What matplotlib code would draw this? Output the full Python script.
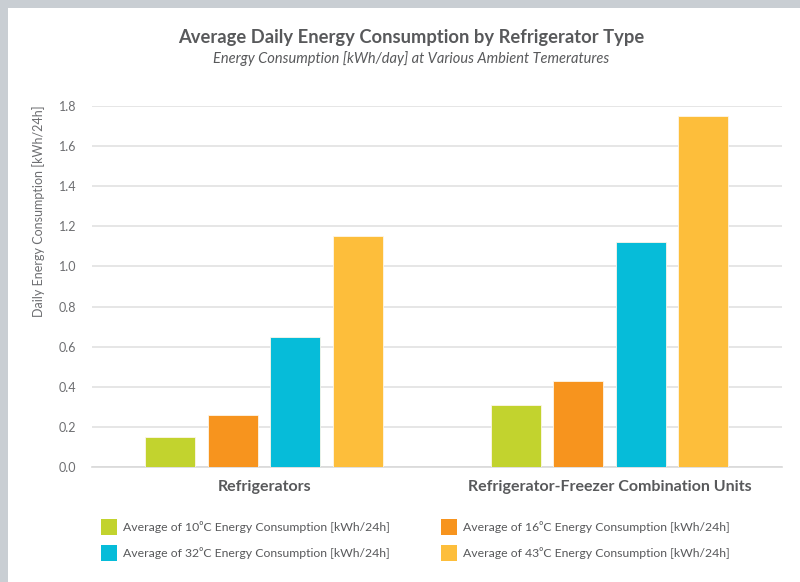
import matplotlib
matplotlib.use("Agg")
import matplotlib.pyplot as plt
from matplotlib.patches import Rectangle
import numpy as np

categories = ["Refrigerators", "Refrigerator-Freezer Combination Units"]
series_names = [
    "Average of 10\u2070C Energy Consumption [kWh/24h]",
    "Average of 16\u2070C Energy Consumption [kWh/24h]",
    "Average of 32\u2070C Energy Consumption [kWh/24h]",
    "Average of 43\u2070C Energy Consumption [kWh/24h]",
]
v10 = [0.15, 0.31]
v16 = [0.26, 0.43]
v32 = [0.65, 1.12]
v43 = [1.15, 1.75]
series_values = [v10, v16, v32, v43]
colors = ["#c2d32e", "#f7941e", "#06bcd9", "#fdbe3b"]
yticks = [0.0, 0.2, 0.4, 0.6, 0.8, 1.0, 1.2, 1.4, 1.6, 1.8]

FONT = ["Lato", "DejaVu Sans"]
plt.rcParams["font.family"] = FONT
TXT = "#58595b"

W, H = 800, 582
fig = plt.figure(figsize=(W / 100, H / 100), dpi=100)
fig.patch.set_facecolor("#c9ced3")
# white card
fig.patches.append(Rectangle((8 / W, 0), 1, 1 - 8 / H, transform=fig.transFigure,
                             facecolor="white", edgecolor="none", zorder=-5))

def px(x, y):
    return x / W, 1 - y / H

l, r, t, b = 91.5, 782, 106, 467
ax = fig.add_axes([l / W, 1 - b / H, (r - l) / W, (b - t) / H])
ax.set_zorder(1)
ax.patch.set_alpha(0)

x = np.arange(len(categories))
step = 0.181
width = 0.145
for i, (vals, c) in enumerate(zip(series_values, colors)):
    ax.bar(x + (i - 1.5) * step, vals, width=width, color=c,
           edgecolor="#fdf6e8", linewidth=0.6, zorder=3, label=series_names[i])

ax.set_xlim(-0.5, 1.5)
ax.set_ylim(0, 1.8)
ax.set_yticks(yticks)
ax.set_yticklabels([f"{v:.1f}" for v in yticks])
ax.yaxis.grid(True, color="#e2e2e2", linewidth=1.2, zorder=0)
ax.set_axisbelow(True)
for s in ["top", "right", "left"]:
    ax.spines[s].set_visible(False)
ax.spines["bottom"].set_color("#d9d9d9")
ax.spines["bottom"].set_linewidth(1.2)
ax.tick_params(axis="y", length=0, pad=11, labelsize=9, labelcolor="#6d6e71")
ax.set_xticks(x)
ax.set_xticklabels(categories, fontsize=11.5, fontweight="bold", color=TXT)
ax.tick_params(axis="x", length=0, pad=9)

fig.text(*px(411, 38), "Average Daily Energy Consumption by Refrigerator Type",
         ha="center", va="center", fontsize=13.2, fontweight="bold", color=TXT)
fig.text(*px(411, 59), "Energy Consumption [kWh/day] at Various Ambient Temeratures",
         ha="center", va="center", fontsize=10.5, style="italic", color=TXT)
fig.text(*px(39, 105), "Daily Energy Consumption [kWh/24h]", rotation=90,
         ha="center", va="top", fontsize=9, color="#6d6e71")

# legend
leg_pos = [(101, 527), (441, 527), (101, 553), (441, 553)]
for (lx, ly), name, c in zip(leg_pos, series_names, colors):
    fig.patches.append(Rectangle(px(lx, ly + 8), 16 / W, 16 / H,
                                 transform=fig.transFigure, facecolor=c,
                                 edgecolor="none", zorder=2))
    fig.text(*px(lx + 22, ly), name, ha="left", va="center", fontsize=8.8,
             color=TXT)

fig.savefig("out.png", dpi=100, facecolor=fig.get_facecolor())
